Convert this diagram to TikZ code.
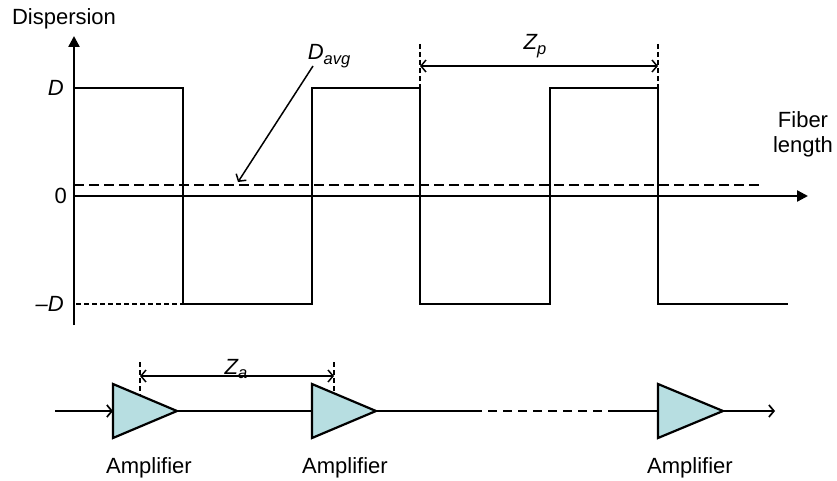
\documentclass[tikz,border=0pt]{standalone}
\usepackage{fontspec}
\setmainfont{Liberation Sans}
\usetikzlibrary{arrows.meta}
\definecolor{ampcyan}{RGB}{183,222,225}
\newcommand{\subtxt}[1]{\raisebox{-0.2em}{\fontsize{16.5}{16.5}\selectfont\itshape #1}}
\begin{document}
\begin{tikzpicture}[x=1pt,y=-1pt,
  font=\fontsize{22}{25}\selectfont,
  lbl/.style={inner sep=0pt},
  axisline/.style={line width=2.4pt,-{Triangle[length=11pt,width=11pt]}},
  wave/.style={line width=2.2pt,line join=miter},
  avgline/.style={line width=1.5pt,dash pattern=on 10pt off 5pt},
  guide/.style={line width=1.3pt,dash pattern=on 5pt off 3pt},
  dimarrow/.style={line width=1.5pt,{Straight Barb[length=5pt,width=12pt]}-{Straight Barb[length=5pt,width=12pt]}},
  pointer/.style={line width=1.5pt,-{Straight Barb[length=5pt,width=12pt]}},
  fiber/.style={line width=2.2pt},
  fiberdash/.style={line width=2.2pt,dash pattern=on 9pt off 6pt},
  amp/.style={draw,line width=2.2pt,fill=ampcyan,line join=miter}]
\useasboundingbox (0,0) rectangle (837,481);

% axes
\coordinate (orig) at (74,196);
\coordinate (ybot) at (74,325);
\coordinate (ytop) at (74,36);
\coordinate (xend) at (808,196);
\draw[axisline] (ybot) -- (ytop);
\draw[axisline] (orig) -- (xend);

% average dispersion line
\coordinate (avgL) at (74,185);
\coordinate (avgR) at (760,185);
\draw[avgline] (avgL) -- (avgR);

% square wave
\coordinate (w0) at (74,88);
\coordinate (w1) at (183,88);
\coordinate (w2) at (183,304);
\coordinate (w3) at (312,304);
\coordinate (w4) at (312,88);
\coordinate (w5) at (420,88);
\coordinate (w6) at (420,304);
\coordinate (w7) at (550,304);
\coordinate (w8) at (550,88);
\coordinate (w9) at (658,88);
\coordinate (w10) at (658,304);
\coordinate (w11) at (788,304);
\draw[wave] (w0) -- (w1) -- (w2) -- (w3) -- (w4) -- (w5) -- (w6) -- (w7) -- (w8) -- (w9) -- (w10) -- (w11);

% -D guide
\coordinate (mD) at (76,304);
\draw[guide] (mD) -- (w2);

% axis labels
\node[lbl,anchor=base] (disp) at (64,25) {Dispersion};
\node[lbl,anchor=east] (lD) at (64,88) {\itshape D};
\node[lbl,anchor=east] (l0) at (67,196) {0};
\node[lbl,anchor=east] (lmD) at (64,304) {\itshape\textendash D};
\node[lbl,anchor=base,align=center] (flen) at (803,153) {Fiber\\length};

% D_avg
\node[lbl,anchor=base] (davg) at (329,60) {\itshape D\subtxt{avg}};
\coordinate (pstart) at (313,66);
\coordinate (pend) at (238,182);
\draw[pointer] (pstart) -- (pend);

% Z_p
\coordinate (zpL) at (420,44);
\coordinate (zpR) at (658,44);
\draw[guide] (zpL) -- (w5);
\draw[guide] (zpR) -- (w9);
\coordinate (zpaL) at (420,66);
\coordinate (zpaR) at (658,66);
\draw[dimarrow] (zpaL) -- (zpaR);
\node[lbl,anchor=base] (zp) at (535,50) {\itshape Z\subtxt{p}};

% amplifier chain
\coordinate (in) at (55,411);
\coordinate (a1L) at (113,411);
\coordinate (a1R) at (177,411);
\coordinate (a2L) at (312,411);
\coordinate (a2R) at (376,411);
\coordinate (a3L) at (658,411);
\coordinate (a3R) at (723,411);
\coordinate (out) at (775,411);
\coordinate (dS) at (473,411);
\coordinate (dE) at (617,411);

\draw[pointer,line width=1.7pt] (in) -- (a1L);
\draw[fiber] (a1R) -- (a2L);
\draw[fiber] (a2R) -- (dS);
\draw[fiberdash] (dS) -- (dE);
\draw[fiber] (dE) -- (a3L);
\draw[pointer,line width=1.7pt] (a3R) -- (out);

\draw[amp] (113,384) -- (a1R) -- (113,438) -- cycle;
\draw[amp] (312,384) -- (a2R) -- (312,438) -- cycle;
\draw[amp] (658,384) -- (a3R) -- (658,438) -- cycle;

\node[lbl,anchor=base] (am1) at (149,473) {Amplifier};
\node[lbl,anchor=base] (am2) at (345,473) {Amplifier};
\node[lbl,anchor=base] (am3) at (690,473) {Amplifier};

% Z_a
\coordinate (zaT1) at (140,362);
\coordinate (zaB1) at (140,395);
\coordinate (zaT2) at (334,362);
\coordinate (zaB2) at (334,393);
\draw[guide] (zaT1) -- (zaB1);
\draw[guide] (zaT2) -- (zaB2);
\coordinate (zaaL) at (140,376);
\coordinate (zaaR) at (334,376);
\draw[dimarrow] (zaaL) -- (zaaR);
\node[lbl,anchor=base] (za) at (236,374) {\itshape Z\subtxt{a}};
\end{tikzpicture}
\end{document}
